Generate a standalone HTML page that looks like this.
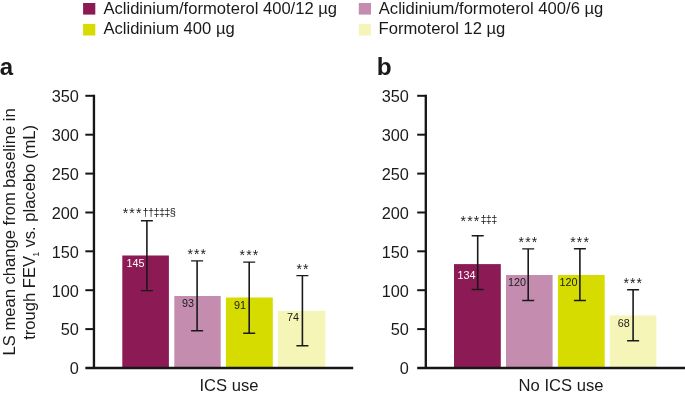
<!DOCTYPE html><html><head><meta charset="utf-8"><title>Figure</title><style>html,body{margin:0;padding:0;background:#fff}svg{display:block}text{font-family:"Liberation Sans",Arial,Helvetica,sans-serif;fill:#1a1a1a}</style></head><body>
<svg width="685" height="395" viewBox="0 0 685 395">
<rect width="685" height="395" fill="#fff"/>
<rect x="83.1" y="3" width="12.2" height="11.6" fill="#8c1a55"/>
<text x="103.4" y="13.9" font-size="16.6">Aclidinium/formoterol 400/12 µg</text>
<rect x="83.1" y="23.9" width="12.2" height="11.6" fill="#d6dc00"/>
<text x="103.4" y="34.1" font-size="16.6">Aclidinium 400 µg</text>
<rect x="358.8" y="3" width="12.2" height="11.6" fill="#c48db0"/>
<text x="378.8" y="13.8" font-size="16.6">Aclidinium/formoterol 400/6 µg</text>
<rect x="358.8" y="23.9" width="12.2" height="11.6" fill="#f5f5b8"/>
<text x="378.6" y="33.8" font-size="16.6">Formoterol 12 µg</text>
<text x="-0.2" y="75.3" font-size="24" font-weight="bold">a</text>
<text x="376.8" y="75.4" font-size="24.4" font-weight="bold">b</text>
<text transform="translate(14.6,355.5) rotate(-90)" font-size="16.6">LS mean change from baseline in</text>
<text transform="translate(34.7,339.8) rotate(-90)" font-size="16.6">trough FEV<tspan font-size="8.2" dy="4.2" dx="-0.6">1</tspan><tspan dy="-4.2" dx="-0.3"> vs. placebo (mL)</tspan></text>
<rect x="122.3" y="255.5" width="46.6" height="112.5" fill="#8c1a55"/>
<rect x="174.3" y="296.0" width="46.4" height="72.0" fill="#c48db0"/>
<rect x="225.9" y="297.5" width="46.9" height="70.5" fill="#d6dc00"/>
<rect x="277.9" y="310.8" width="47.4" height="57.2" fill="#f5f5b8"/>
<path d="M93.95 94.8V369.1" stroke="#161616" stroke-width="2.35" fill="none"/>
<path d="M85.35 368.0H353.2" stroke="#161616" stroke-width="2.3" fill="none"/>
<path d="M85.35 329.1H93.95" stroke="#161616" stroke-width="2" fill="none"/>
<path d="M85.35 290.2H93.95" stroke="#161616" stroke-width="2" fill="none"/>
<path d="M85.35 251.3H93.95" stroke="#161616" stroke-width="2" fill="none"/>
<path d="M85.35 212.5H93.95" stroke="#161616" stroke-width="2" fill="none"/>
<path d="M85.35 173.6H93.95" stroke="#161616" stroke-width="2" fill="none"/>
<path d="M85.35 134.7H93.95" stroke="#161616" stroke-width="2" fill="none"/>
<path d="M85.35 95.8H93.95" stroke="#161616" stroke-width="2" fill="none"/>
<text x="78.9" y="374.3" font-size="16.3" text-anchor="end">0</text>
<text x="78.9" y="335.4" font-size="16.3" text-anchor="end">50</text>
<text x="78.9" y="296.5" font-size="16.3" text-anchor="end">100</text>
<text x="78.9" y="257.6" font-size="16.3" text-anchor="end">150</text>
<text x="78.9" y="218.8" font-size="16.3" text-anchor="end">200</text>
<text x="78.9" y="179.9" font-size="16.3" text-anchor="end">250</text>
<text x="78.9" y="141.0" font-size="16.3" text-anchor="end">300</text>
<text x="78.9" y="102.1" font-size="16.3" text-anchor="end">350</text>
<path d="M140.9 220.8h12M140.9 290.6h12" stroke="#1a1a1a" stroke-width="1.4" fill="none"/><path d="M146.9 220.8V290.6" stroke="#1a1a1a" stroke-width="1.6" fill="none"/>
<text x="126.5" y="267.4" font-size="10.8" style="fill:#fff">145</text>
<text x="122.8" y="218.4" font-size="14" letter-spacing="1.1">***</text>
<text x="142.5" y="215.8" font-size="11" letter-spacing="-0.65">††‡‡‡§</text>
<path d="M191.1 260.9h12M191.1 330.7h12" stroke="#1a1a1a" stroke-width="1.4" fill="none"/><path d="M197.1 260.9V330.7" stroke="#1a1a1a" stroke-width="1.6" fill="none"/>
<text x="182.0" y="307.4" font-size="10.8" style="fill:#1a1a1a">93</text>
<text x="187.5" y="259.2" font-size="14" letter-spacing="1.1">***</text>
<path d="M243.2 262.1h12M243.2 333.2h12" stroke="#1a1a1a" stroke-width="1.4" fill="none"/><path d="M249.2 262.1V333.2" stroke="#1a1a1a" stroke-width="1.6" fill="none"/>
<text x="234.0" y="308.7" font-size="10.8" style="fill:#1a1a1a">91</text>
<text x="239.6" y="260.3" font-size="14" letter-spacing="1.1">***</text>
<path d="M296.4 275.6h12M296.4 345.8h12" stroke="#1a1a1a" stroke-width="1.4" fill="none"/><path d="M302.4 275.6V345.8" stroke="#1a1a1a" stroke-width="1.6" fill="none"/>
<text x="287.0" y="320.7" font-size="10.8" style="fill:#1a1a1a">74</text>
<text x="296.4" y="273.9" font-size="14" letter-spacing="1.1">**</text>
<text x="229" y="390.7" font-size="16.6" text-anchor="middle">ICS use</text>
<rect x="454" y="264.1" width="46.8" height="103.9" fill="#8c1a55"/>
<rect x="506" y="275.0" width="46.6" height="93.0" fill="#c48db0"/>
<rect x="557.9" y="275.0" width="46.8" height="93.0" fill="#d6dc00"/>
<rect x="609.8" y="315.4" width="46.6" height="52.6" fill="#f5f5b8"/>
<path d="M425.8 94.8V369.1" stroke="#161616" stroke-width="2.35" fill="none"/>
<path d="M417.20 368.0H685" stroke="#161616" stroke-width="2.3" fill="none"/>
<path d="M417.20 329.1H425.8" stroke="#161616" stroke-width="2" fill="none"/>
<path d="M417.20 290.2H425.8" stroke="#161616" stroke-width="2" fill="none"/>
<path d="M417.20 251.3H425.8" stroke="#161616" stroke-width="2" fill="none"/>
<path d="M417.20 212.5H425.8" stroke="#161616" stroke-width="2" fill="none"/>
<path d="M417.20 173.6H425.8" stroke="#161616" stroke-width="2" fill="none"/>
<path d="M417.20 134.7H425.8" stroke="#161616" stroke-width="2" fill="none"/>
<path d="M417.20 95.8H425.8" stroke="#161616" stroke-width="2" fill="none"/>
<text x="408.79999999999995" y="374.3" font-size="16.3" text-anchor="end">0</text>
<text x="408.79999999999995" y="335.4" font-size="16.3" text-anchor="end">50</text>
<text x="408.79999999999995" y="296.5" font-size="16.3" text-anchor="end">100</text>
<text x="408.79999999999995" y="257.6" font-size="16.3" text-anchor="end">150</text>
<text x="408.79999999999995" y="218.8" font-size="16.3" text-anchor="end">200</text>
<text x="408.79999999999995" y="179.9" font-size="16.3" text-anchor="end">250</text>
<text x="408.79999999999995" y="141.0" font-size="16.3" text-anchor="end">300</text>
<text x="408.79999999999995" y="102.1" font-size="16.3" text-anchor="end">350</text>
<path d="M471.7 235.7h12M471.7 289.5h12" stroke="#1a1a1a" stroke-width="1.4" fill="none"/><path d="M477.7 235.7V289.5" stroke="#1a1a1a" stroke-width="1.6" fill="none"/>
<text x="457.4" y="279.3" font-size="10.8" style="fill:#fff">134</text>
<text x="460.6" y="225.9" font-size="14" letter-spacing="1.1">***</text>
<text x="480.4" y="223.1" font-size="11" letter-spacing="-0.65">‡‡‡</text>
<path d="M522.2 248.9h12M522.2 300.5h12" stroke="#1a1a1a" stroke-width="1.4" fill="none"/><path d="M528.2 248.9V300.5" stroke="#1a1a1a" stroke-width="1.6" fill="none"/>
<text x="508.0" y="285.8" font-size="10.8" style="fill:#1a1a1a">120</text>
<text x="518.6" y="247.2" font-size="14" letter-spacing="1.1">***</text>
<path d="M573.9 248.8h12M573.9 300.5h12" stroke="#1a1a1a" stroke-width="1.4" fill="none"/><path d="M579.9 248.8V300.5" stroke="#1a1a1a" stroke-width="1.6" fill="none"/>
<text x="559.4" y="285.8" font-size="10.8" style="fill:#1a1a1a">120</text>
<text x="570.3" y="247.0" font-size="14" letter-spacing="1.1">***</text>
<path d="M627.1 289.8h12M627.1 340.7h12" stroke="#1a1a1a" stroke-width="1.4" fill="none"/><path d="M633.1 289.8V340.7" stroke="#1a1a1a" stroke-width="1.6" fill="none"/>
<text x="617.8" y="327.4" font-size="10.8" style="fill:#1a1a1a">68</text>
<text x="623.4" y="288.1" font-size="14" letter-spacing="1.1">***</text>
<text x="561" y="390.7" font-size="16.6" text-anchor="middle">No ICS use</text>
</svg></body></html>
